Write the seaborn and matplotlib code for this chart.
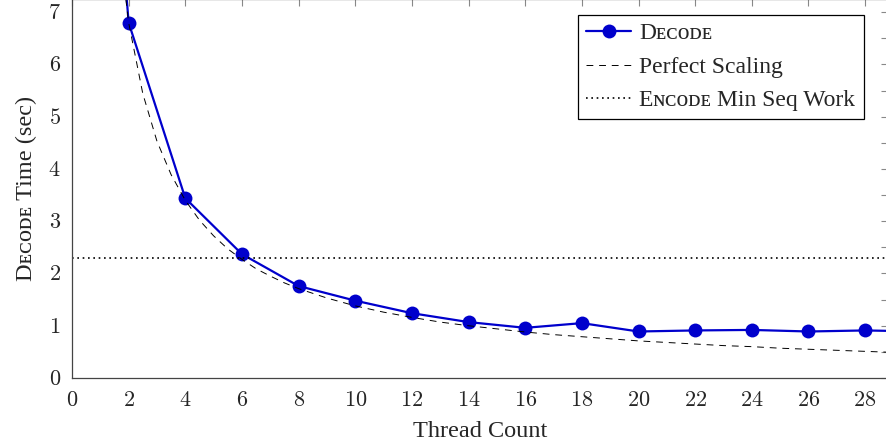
import matplotlib
matplotlib.use("Agg")
import matplotlib.pyplot as plt
from matplotlib.ticker import MultipleLocator, FuncFormatter
import seaborn as sns
import pandas as pd

threads = [1, 2, 4, 6, 8, 10, 12, 14, 16, 18, 20, 22, 24, 26, 28, 30]
decode_time = [13.5, 6.8, 3.44, 2.37, 1.76, 1.48, 1.24, 1.07, 0.96, 1.05,
               0.89, 0.91, 0.92, 0.89, 0.91, 0.89]

ideal_threads = [1, 1.5, 2, 2.5, 3, 3.5, 4, 4.5, 5, 5.5, 6, 6.5, 7, 7.5, 8,
                 9, 10, 11, 12, 13, 14, 15, 16, 17, 18, 19, 20, 21, 22, 23,
                 24, 25, 26, 27, 28, 29, 30]
ideal_time = [13.6, 9.07, 6.8, 5.44, 4.53, 3.89, 3.4, 3.02, 2.72, 2.47,
              2.27, 2.09, 1.95, 1.82, 1.71, 1.53, 1.38, 1.26, 1.16, 1.07,
              1.0, 0.94, 0.88, 0.83, 0.79, 0.75, 0.71, 0.68, 0.65, 0.62,
              0.6, 0.57, 0.55, 0.53, 0.51, 0.49, 0.48]

encode_min_seq = [2.3]

sns.set_theme(style="white")
plt.rcParams["font.family"] = ["Liberation Serif", "DejaVu Serif"]
plt.rcParams["mathtext.fontset"] = "cm"

fig = plt.figure(figsize=(8.86, 4.44), dpi=100)
ax = fig.add_axes([72 / 886, 66 / 444, 1 - 72 / 886 + 0.002, 378 / 444 + 0.002])

dec = pd.DataFrame({"x": threads, "y": decode_time})
ideal = pd.DataFrame({"x": ideal_threads, "y": ideal_time})

sns.lineplot(data=dec, x="x", y="y", ax=ax, color="#0000cc", lw=1.6,
             marker="o", markersize=10, markeredgewidth=0,
             label="D\u1d07\u1d04\u1d0f\u1d05\u1d07")
sns.lineplot(data=ideal, x="x", y="y", ax=ax, color="black", lw=0.7,
             dashes=False, linestyle=(0, (7, 6)), label="Perfect Scaling")
ax.axhline(encode_min_seq[0], color="black", lw=1.2, linestyle=(0, (1, 2.2)),
           label="E\u0274\u1d04\u1d0f\u1d05\u1d07 Min Seq Work")

ax.set_xlim(0, 28.8)
ax.set_ylim(0, 7.25)
ax.xaxis.set_major_locator(MultipleLocator(2))
ax.yaxis.set_major_locator(MultipleLocator(1))
ax.yaxis.set_minor_locator(MultipleLocator(0.5))
fmt = FuncFormatter(lambda v, p: f"${int(round(v))}$")
ax.xaxis.set_major_formatter(fmt)
ax.yaxis.set_major_formatter(fmt)
ax.tick_params(which="both", direction="in", length=5, width=0.8,
               color="#888888", top=True, right=True, labelsize=16)
ax.tick_params(axis="x", pad=10)
ax.tick_params(axis="y", pad=8)

for s in ax.spines.values():
    s.set_color("#444444")
    s.set_linewidth(0.9)

ax.set_xlabel("Thread Count", fontsize=17.5, labelpad=7)
ax.set_ylabel("D\u1d07\u1d04\u1d0f\u1d05\u1d07 Time (sec)", fontsize=17.5, labelpad=8)

leg = ax.legend(loc="upper right", fontsize=17, frameon=True, fancybox=False,
                edgecolor="black", framealpha=1, handlelength=1.9,
                handletextpad=0.35, borderpad=0.35, labelspacing=0.5,
                borderaxespad=0.5, bbox_to_anchor=(0.985, 0.99))
leg.get_frame().set_linewidth(0.9)

fig.savefig("out.png", dpi=100)
